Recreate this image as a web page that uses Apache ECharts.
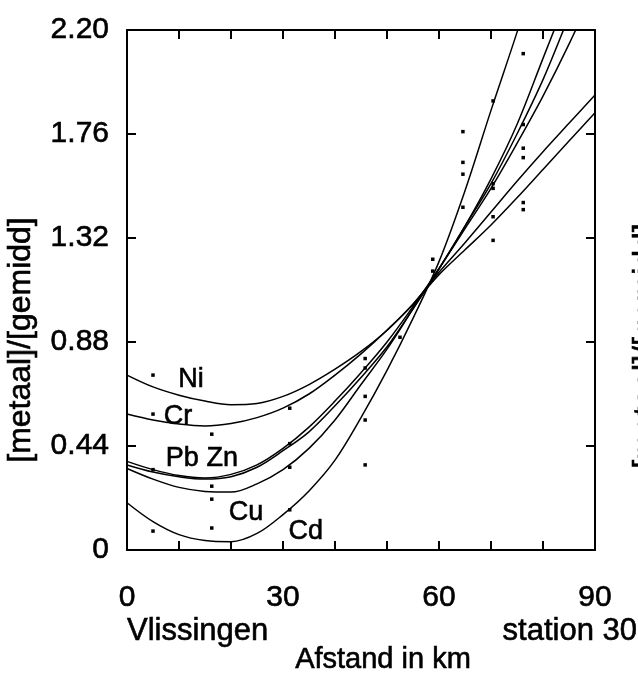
<!DOCTYPE html>
<html><head><meta charset="utf-8">
<script src="https://cdn.jsdelivr.net/npm/echarts/dist/echarts.min.js"></script>
<style>html,body{margin:0;padding:0;background:#fff}#c{width:638px;height:688px}</style>
</head><body><div id="c"></div>
<script>
// distance along the river (km)
const km = [0,5,10,15,20,25,30,35,40,45,50,55,60,65,70,75,80,85,90];
// fitted curves [metaal]/[gemidd]
const Ni = [0.74,0.69,0.655,0.63,0.615,0.62,0.65,0.70,0.765,0.84,0.93,1.04,1.165,1.27,1.375,1.49,1.61,1.73,1.85];
const Cr = [0.575,0.55,0.533,0.525,0.535,0.56,0.60,0.66,0.74,0.83,0.93,1.04,1.175,1.30,1.43,1.56,1.685,1.805,1.925];
const Pb = [0.375,0.34,0.315,0.305,0.32,0.36,0.43,0.52,0.63,0.75,0.88,1.03,1.19,1.36,1.53,1.72,1.92,2.14,2.38];
const Zn = [0.36,0.33,0.31,0.30,0.31,0.35,0.42,0.50,0.61,0.73,0.86,1.02,1.19,1.37,1.55,1.76,1.99,2.26,2.55];
const Cu = [0.345,0.30,0.265,0.248,0.245,0.28,0.34,0.43,0.55,0.70,0.85,1.02,1.19,1.37,1.57,1.80,2.08,2.36,2.65];
const Cd = [0.20,0.12,0.065,0.04,0.035,0.07,0.15,0.25,0.38,0.56,0.76,0.98,1.22,1.52,1.86,2.19,2.54,2.90,3.30];
// measured points
const dotKm  = [5,5,5,5, 16.3,16.3,16.3,16.3, 31.3,31.3,31.3,31.3, 45.8,45.8,45.8,45.8,45.8, 52.5, 58.8,58.8, 64.6,64.6,64.6,64.6, 70.4,70.4,70.4,70.4,70.4, 76.2,76.2,76.2,76.2,76.2,76.2];
const dotVal = [0.74,0.575,0.34,0.08, 0.49,0.27,0.215,0.093, 0.60,0.45,0.35,0.17, 0.81,0.77,0.65,0.55,0.36, 0.90, 1.23,1.18, 1.77,1.64,1.59,1.45, 1.90,1.55,1.53,1.41,1.31, 2.10,1.80,1.70,1.66,1.47,1.44];
// curve labels
const labelText = ['Ni','Cr','Pb Zn','Cu','Cd'];
const labelKm   = [12.3, 9.8, 14.4, 22.9, 34.4];
const labelVal  = [0.72, 0.563, 0.385, 0.16, 0.076];
// tick labels
const xTickLabels = [0,30,60,90];
const yTickLabels = ['0','0.44','0.88','1.32','1.76','2.20'];

const FONT = 'Liberation Sans';
const TB = {textBorderColor:'#000', textBorderWidth:0.6};
const chart = echarts.init(document.getElementById('c'), null, {renderer:'canvas'});
const curves = {Ni, Cr, Pb, Zn, Cu, Cd};
const lineSeries = Object.keys(curves).map(name => ({
  name, type:'line', smooth:0.35, symbol:'none', clip:true,
  lineStyle:{color:'#000', width:1.5, opacity:1},
  data: km.map((x,i)=>[x, curves[name][i]])
}));
const axisCommon = {
  type:'value', min:0, max:90, interval:10,
  axisLine:{show:true, onZero:false, lineStyle:{color:'#000', width:2}},
  axisTick:{show:true, inside:true, length:9, lineStyle:{color:'#000', width:2}},
  splitLine:{show:false}
};
const yCommon = {
  type:'value', min:0, max:2.2, interval:0.44,
  axisLine:{show:true, onZero:false, lineStyle:{color:'#000', width:2}},
  axisTick:{show:true, inside:true, length:9, lineStyle:{color:'#000', width:2}},
  splitLine:{show:false}
};
function txt(x, y, text, size, align, rot){
  return {type:'text', x, y, rotation:rot||0,
    style:{text, font:size+'px "Liberation Sans"', fill:'#000', stroke:'#000', lineWidth:0.6,
      align, verticalAlign:'middle'}};
}
chart.setOption({
  animation:false,
  backgroundColor:'#fff',
  grid:{left:127, right:43, top:30, bottom:138, containLabel:false},
  xAxis:[
    Object.assign({}, axisCommon, {
      position:'bottom',
      axisLabel:Object.assign({margin:33, fontSize:30, color:'#000', fontFamily:FONT,
        formatter:v => xTickLabels.indexOf(v) >= 0 ? String(v) : ''}, TB)
    }),
    Object.assign({}, axisCommon, {position:'top', axisLabel:{show:false}})
  ],
  yAxis:[
    Object.assign({}, yCommon, {
      position:'left',
      axisLabel:Object.assign({margin:18, fontSize:30, color:'#000', fontFamily:FONT,
        formatter:(v)=>{ const i = Math.round(v/0.44); return yTickLabels[i] || ''; }}, TB)
    }),
    Object.assign({}, yCommon, {position:'right', axisLabel:{show:false}})
  ],
  series: lineSeries.concat([
    {type:'scatter', symbol:'rect', symbolSize:3.5, itemStyle:{color:'#000', opacity:1},
     data: dotKm.map((x,i)=>[x, dotVal[i]])},
    {type:'scatter', symbolSize:0, silent:true, itemStyle:{color:'#000', opacity:1},
     label:Object.assign({show:true, position:'inside', fontSize:27, color:'#000', opacity:1, fontFamily:FONT,
       formatter:p=>labelText[p.dataIndex]}, TB),
     data: labelKm.map((x,i)=>[x, labelVal[i]])}
  ]),
  graphic:[
    txt(21, 340, '[metaal]/[gemidd]', 32, 'center', Math.PI/2),
    txt(127, 631, 'Vlissingen', 31, 'left'),
    txt(637, 631, 'station 30', 31, 'right'),
    txt(383, 660, 'Afstand in km', 29, 'center'),
    txt(646, 346, '[metaal]/[gemidd]', 32, 'center', Math.PI/2)
  ]
});
</script></body></html>
